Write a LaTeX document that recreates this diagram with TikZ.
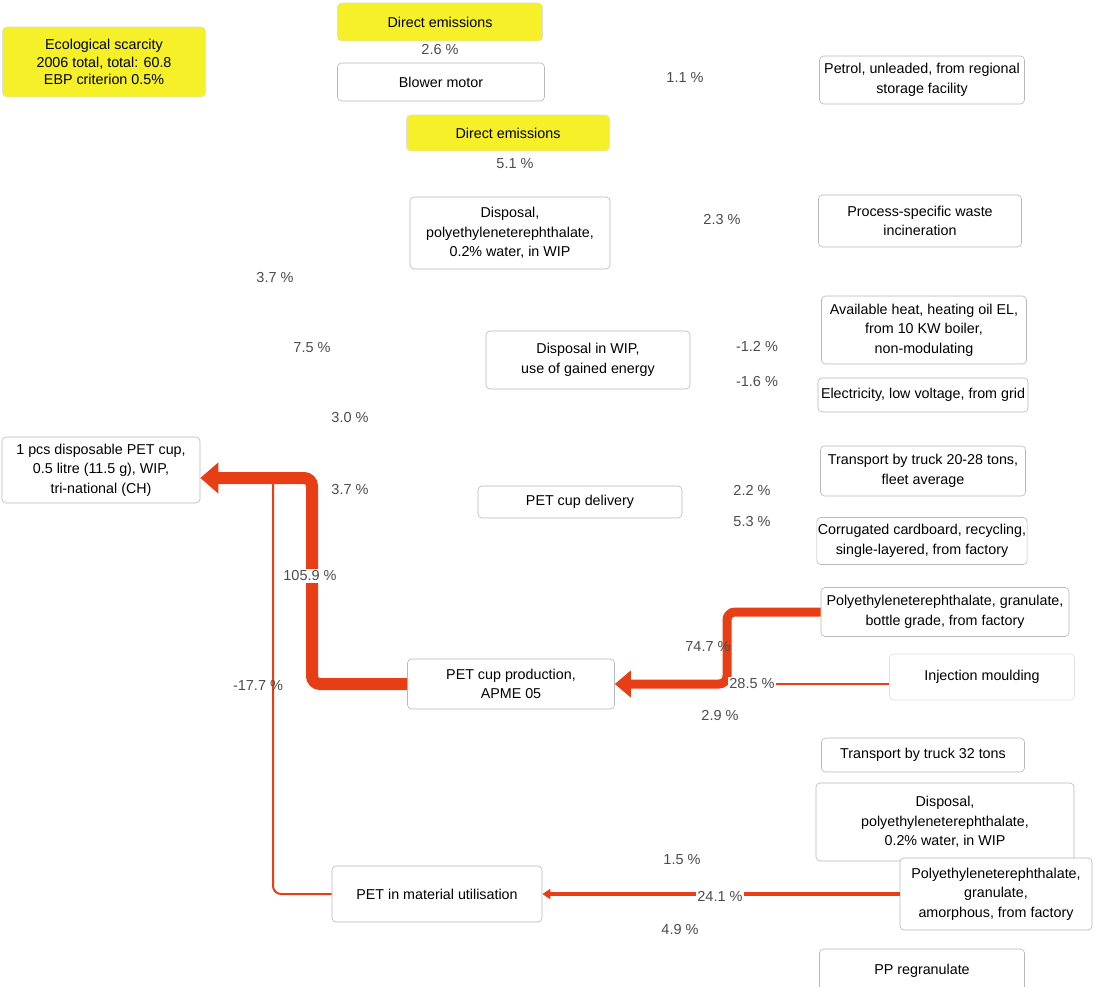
\documentclass[tikz,border=0pt]{standalone}
\usepackage{fontspec}
\setmainfont{Liberation Sans}
\usetikzlibrary{arrows.meta}
\definecolor{flowred}{RGB}{232,62,22}
\definecolor{hiyellow}{RGB}{246,240,40}
\newcommand\boxfont{\fontsize{14.3}{19.5}\selectfont}
\newcommand\ecofont{\fontsize{14.3}{17.5}\selectfont}
\newcommand\pctfont{\fontsize{14.5}{16}\selectfont}
\tikzset{
  box/.style={draw=black!28, line width=0.6pt, rounded corners=4pt, fill=white,
    align=center, font=\boxfont, inner sep=1pt},
  ybox/.style={box, fill=hiyellow, draw=black!12},
  pct/.style={font=\pctfont, text=black!70, inner sep=1.5pt},
  pcton/.style={pct, fill=white},
  flow/.style={draw=flowred, rounded corners=8pt},
}
\begin{document}
\begin{tikzpicture}[x=1pt,y=-1pt]
\useasboundingbox (0,0) rectangle (1095,987);

% process boxes
\node[ybox, font=\ecofont, minimum width=203, minimum height=70] (eco) at (104,62)
  {Ecological scarcity\\2006 total, total: 60.8\\EBP criterion 0.5\%};
\node[ybox, minimum width=205, minimum height=38] (de1) at (440,22) {Direct emissions};
\node[box, minimum width=207, minimum height=38] (blower) at (441,82) {Blower motor};
\node[box, minimum width=205, minimum height=48] (petrol) at (922,80)
  {Petrol, unleaded, from regional\\storage facility};
\node[ybox, minimum width=203, minimum height=36] (de2) at (508,133) {Direct emissions};
\node[box, minimum width=200, minimum height=72] (disp1) at (510,233)
  {Disposal,\\polyethyleneterephthalate,\\0.2\% water, in WIP};
\node[box, minimum width=203, minimum height=52] (waste) at (920,221)
  {Process-specific waste\\incineration};
\node[box, minimum width=204, minimum height=58] (dwip) at (588,360)
  {Disposal in WIP,\\use of gained energy};
\node[box, minimum width=205, minimum height=68] (heat) at (924,330)
  {Available heat, heating oil EL,\\from 10 KW boiler,\\non-modulating};
\node[box, minimum width=210, minimum height=34] (elec) at (923,395)
  {Electricity, low voltage, from grid};
\node[box, minimum width=198, minimum height=66] (cup) at (101,470)
  {1 pcs disposable PET cup,\\0.5 litre (11.5 g), WIP,\\tri-national (CH)};
\node[box, minimum width=204, minimum height=32] (deliv) at (580,502) {PET cup delivery};
\node[box, minimum width=205, minimum height=50] (truck1) at (923,471)
  {Transport by truck 20-28 tons,\\fleet average};
\node[box, minimum width=207, minimum height=47] (card) at (922,541)
  {Corrugated cardboard, recycling,\\single-layered, from factory};
\node[box, minimum width=248, minimum height=49] (bottle) at (945,612)
  {Polyethyleneterephthalate, granulate,\\bottle grade, from factory};
\node[box, draw=black!12, minimum width=185, minimum height=46] (inject) at (982,677)
  {Injection moulding};
\node[box, minimum width=207, minimum height=50] (prod) at (511,684)
  {PET cup production,\\APME 05};
\node[box, minimum width=203, minimum height=34] (truck2) at (923,755)
  {Transport by truck 32 tons};
\node[box, minimum width=258, minimum height=78] (disp2) at (945,822)
  {Disposal,\\polyethyleneterephthalate,\\0.2\% water, in WIP};
\node[box, minimum width=210, minimum height=56] (petmat) at (437,894)
  {PET in material utilisation};
\node[box, minimum width=192, minimum height=72] (amorph) at (996,894)
  {Polyethyleneterephthalate,\\granulate,\\amorphous, from factory};
\node[box, minimum width=205, minimum height=44] (ppreg) at (922,971) {PP regranulate};

% anchor points of the flows
\coordinate (cupin) at (cup.east |- 0,478);
\coordinate (injout) at (inject.west |- prod.east);

% material flows
\draw[flow, line width=2pt] (petmat.west) -- (273,894) -- (273,478);
\draw[flow, line width=12pt, -{Triangle[length=18pt,width=30pt]}]
  (prod.west) -- (312,684) -- (312,478) -- (cupin);
\draw[flow, line width=2.5pt] (injout) -- (727,684);
\draw[flow, line width=9pt, -{Triangle[length=16pt,width=26pt]}]
  (bottle.west) -- (727,612) -- (727,684) -- (prod.east);
\draw[flow, line width=3.5pt, -{Triangle[length=8pt,width=10pt]}]
  (amorph.west) -- (petmat.east);

% contribution shares
\node[pct] (p1) at (440,50) {2.6 \%};
\node[pct] (p2) at (685,78) {1.1 \%};
\node[pct] (p3) at (515,164) {5.1 \%};
\node[pct] (p4) at (722,220) {2.3 \%};
\node[pct] (p5) at (275,278) {3.7 \%};
\node[pct] (p6) at (312,348) {7.5 \%};
\node[pct] (p7) at (757,346) {-1.2 \%};
\node[pct] (p8) at (757,382) {-1.6 \%};
\node[pct] (p9) at (350,418) {3.0 \%};
\node[pct] (p10) at (350,490) {3.7 \%};
\node[pct] (p11) at (752,490) {2.2 \%};
\node[pct] (p12) at (752,522) {5.3 \%};
\node[pcton] (p13) at (310,576) {105.9 \%};
\node[pct] (p14) at (708,647) {74.7 \%};
\node[pcton] (p15) at (752,684) {28.5 \%};
\node[pct] (p16) at (258,686) {-17.7 \%};
\node[pct] (p17) at (720,716) {2.9 \%};
\node[pct] (p18) at (682,860) {1.5 \%};
\node[pcton] (p19) at (720,896) {24.1 \%};
\node[pct] (p20) at (680,930) {4.9 \%};
\end{tikzpicture}
\end{document}
